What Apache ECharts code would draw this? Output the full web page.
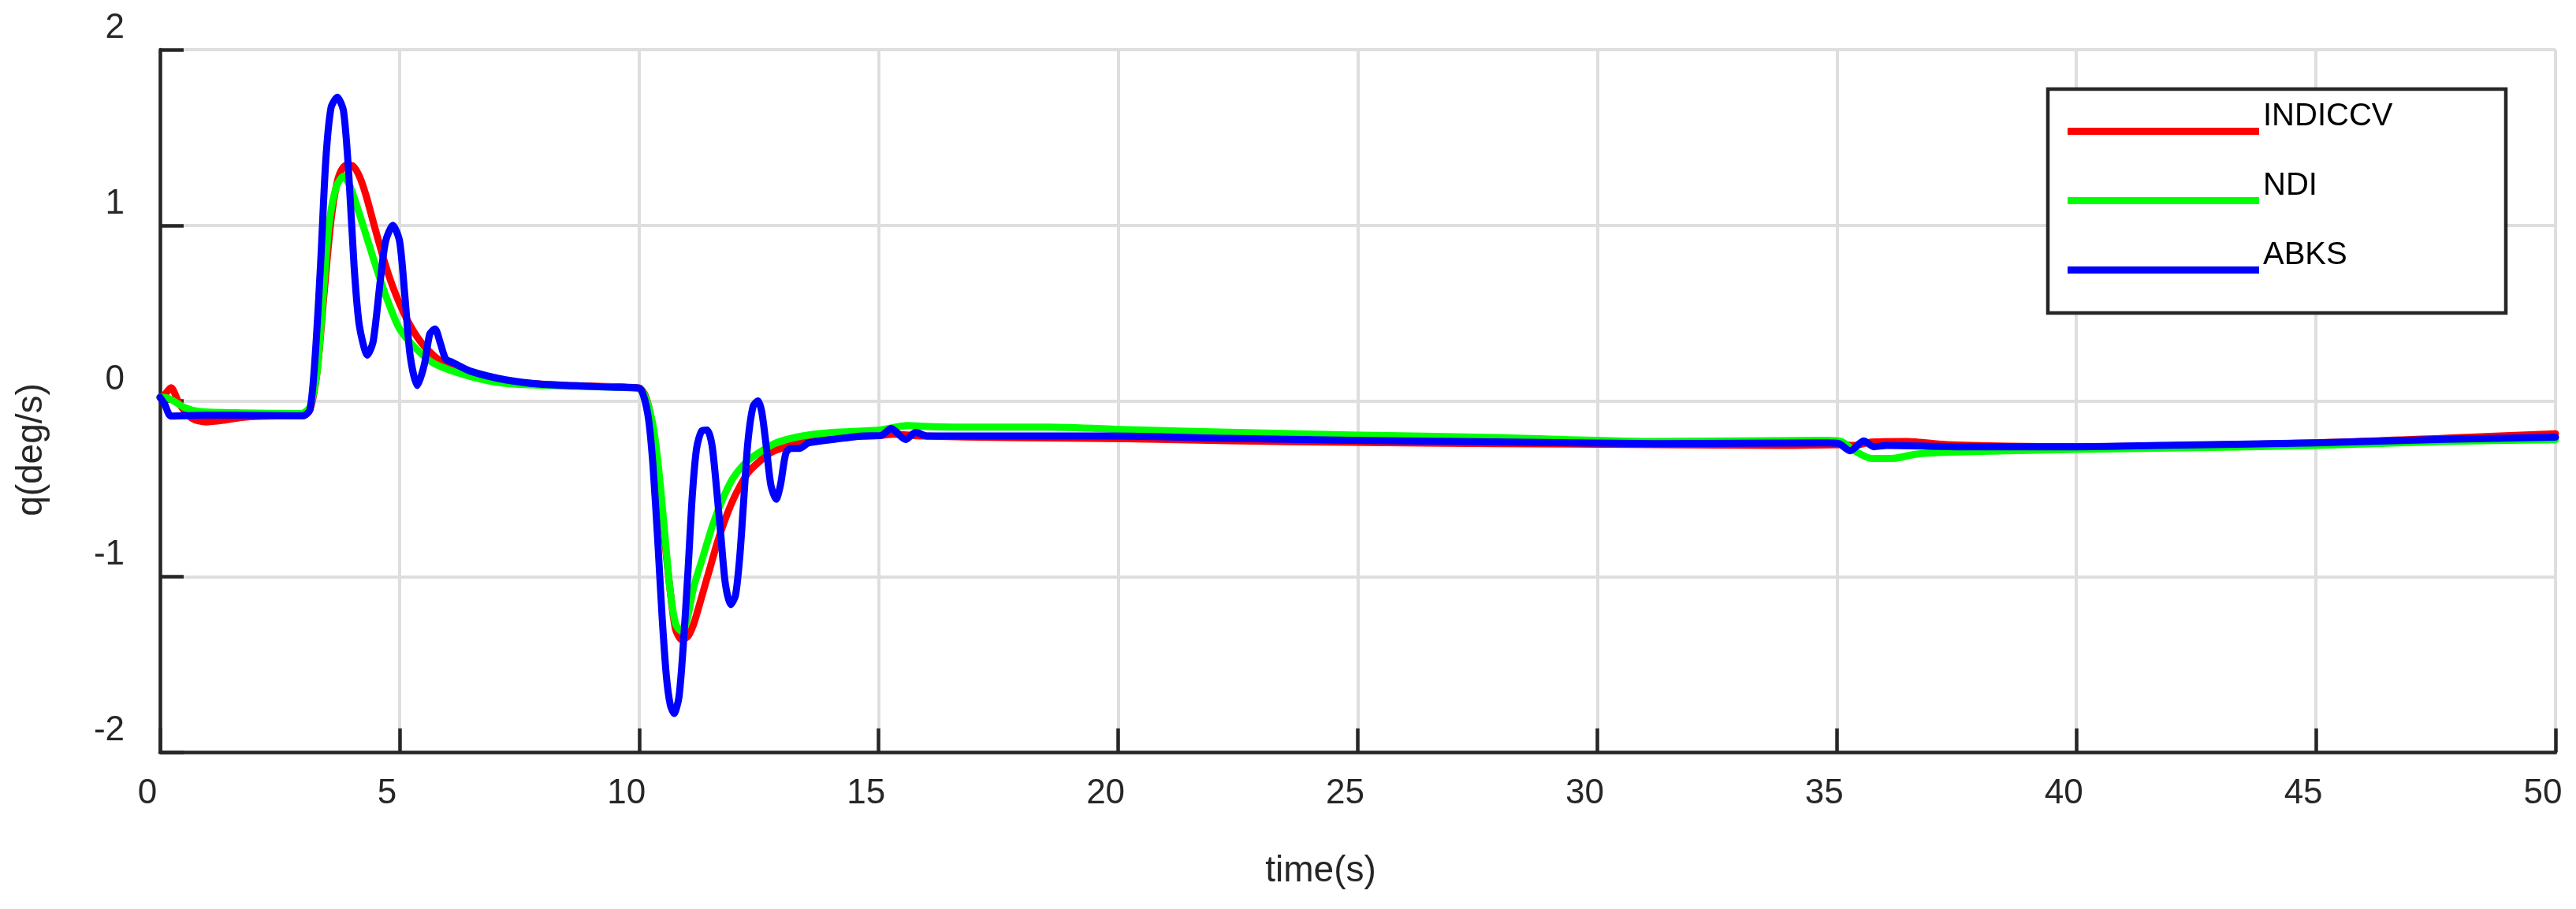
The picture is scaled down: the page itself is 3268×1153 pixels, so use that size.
<!DOCTYPE html>
<html lang="en">
<head>
	<meta charset="UTF-8">
	<title>q response</title>
	<style type="text/css">
	body,html{
		width: 100%;
		height: 100%;
		margin: 0;
		padding: 0;
		background: #fff;
	}
	#chart{
		width: 3268px;
		height: 1153px;
	}
	</style>
</head>
<body>
	<div id="chart"></div>
<script type="text/javascript" src="https://cdn.jsdelivr.net/npm/echarts@6/dist/echarts.min.js"></script>
<script type="text/javascript">
	var seriesNames = ['INDICCV', 'NDI', 'ABKS'];
	var xTicks = [0, 5, 10, 15, 20, 25, 30, 35, 40, 45, 50];
	var yTicks = [-2, -1, 0, 1, 2];

	// INDICCV (red)
	var tIndiccv = [0, 0.08, 0.23, 0.41, 0.67, 0.96, 1.33, 1.70, 2.43, 2.98, 3.13, 3.28, 3.42, 3.57, 3.72, 3.87, 4.01, 4.16, 4.30, 4.49, 4.71, 4.93, 5.22, 5.52, 5.89, 6.47, 7.21, 8.68, 10.0,
		10.13, 10.26, 10.39, 10.51, 10.64, 10.76, 10.89, 11.02, 11.14, 11.27, 11.46, 11.64, 11.83, 12.02, 12.27, 12.53, 12.78, 13.09, 13.41, 14.04, 15.01, 15.3, 15.9,
		17.7, 20.2, 22.3, 24.84, 27.9, 31.21, 33.83, 35.09, 35.35, 35.72, 36.46, 37.3, 38.56, 40.0, 45.0, 47.66, 50];
	var qIndiccv = [0.02, 0.03, 0.075, -0.02, -0.10, -0.12, -0.11, -0.094, -0.085, -0.085, -0.05, 0.17, 0.60, 1.03, 1.27, 1.34, 1.34, 1.28, 1.17, 0.98, 0.77, 0.60, 0.43, 0.31, 0.22, 0.155, 0.11, 0.086, 0.073,
		0.03, -0.11, -0.37, -0.72, -1.06, -1.30, -1.36, -1.34, -1.27, -1.15, -0.97, -0.80, -0.65, -0.53, -0.41, -0.34, -0.29, -0.26, -0.235, -0.21, -0.197, -0.19, -0.20,
		-0.209, -0.216, -0.227, -0.236, -0.243, -0.249, -0.254, -0.249, -0.254, -0.234, -0.231, -0.249, -0.258, -0.261, -0.239, -0.213, -0.187];

	// NDI (green)
	var tNdi = [0, 0.1, 0.53, 0.82, 1.70, 2.95, 3.13, 3.28, 3.42, 3.53, 3.68, 3.83, 3.97, 4.12, 4.34, 4.56, 4.78, 5.0, 5.37, 5.74, 6.47, 7.21, 8.68, 10.0,
		10.26, 10.39, 10.51, 10.64, 10.76, 10.88, 10.98, 11.14, 11.33, 11.52, 11.71, 11.96, 12.27, 12.59, 12.90, 13.41, 14.04, 15.01, 15.61, 15.93, 16.56, 18.54,
		20.22, 22.3, 24.84, 27.9, 31.21, 34.78, 35.09, 35.41, 35.72, 36.14, 36.67, 37.5, 40.0, 41.7, 45.0, 47.66, 50];
	var qNdi = [0.02, 0.02, -0.04, -0.06, -0.068, -0.072, -0.034, 0.17, 0.65, 1.01, 1.22, 1.28, 1.22, 1.10, 0.91, 0.72, 0.55, 0.41, 0.29, 0.21, 0.14, 0.10, 0.083, 0.069,
		-0.10, -0.34, -0.68, -1.06, -1.27, -1.31, -1.27, -1.06, -0.89, -0.72, -0.58, -0.44, -0.34, -0.28, -0.235, -0.20, -0.18, -0.166, -0.14, -0.145, -0.149, -0.149,
		-0.164, -0.179, -0.194, -0.209, -0.231, -0.224, -0.231, -0.291, -0.328, -0.328, -0.303, -0.291, -0.276, -0.269, -0.254, -0.231, -0.221];

	// ABKS (blue)
	var tAbks = [0, 0.1, 0.23, 1.0, 2.0, 2.98, 3.13, 3.24, 3.35, 3.46, 3.57, 3.70, 3.83, 3.94, 4.05, 4.16, 4.33, 4.45, 4.60, 4.71, 4.86, 5.0, 5.11, 5.22, 5.37, 5.52,
		5.63, 5.74, 5.85, 5.96, 6.10, 6.47, 7.21, 7.94, 8.68, 9.41, 10.0, 10.10, 10.20, 10.29, 10.39, 10.48, 10.57, 10.65, 10.73, 10.83, 10.92, 11.02, 11.11, 11.20,
		11.31, 11.42, 11.52, 11.61, 11.71, 11.80, 11.91, 12.01, 12.10, 12.18, 12.27, 12.38, 12.48, 12.56, 12.65, 12.75, 12.86, 12.95, 13.06, 13.16, 13.35, 13.53,
		14.04, 14.67, 15.05, 15.26, 15.56, 15.77, 16.02, 17.19, 19.8, 22.3, 24.84, 27.9, 31.21, 34.78, 35.04, 35.28, 35.56, 35.77, 36.04, 37.5, 40.0, 41.7, 45.0, 47.66, 50];
	var qAbks = [0.02, -0.02, -0.086, -0.082, -0.083, -0.085, -0.05, 0.26, 0.77, 1.37, 1.67, 1.73, 1.65, 1.29, 0.77, 0.43, 0.26, 0.34, 0.69, 0.91, 1.0, 0.91, 0.60, 0.26, 0.087, 0.21,
		0.38, 0.41, 0.33, 0.24, 0.22, 0.17, 0.12, 0.095, 0.086, 0.078, 0.073, 0.023, -0.11, -0.37, -0.80, -1.23, -1.57, -1.73, -1.78, -1.69, -1.40, -0.97, -0.54, -0.27,
		-0.17, -0.166, -0.25, -0.48, -0.78, -1.04, -1.16, -1.11, -0.89, -0.58, -0.235, -0.03, 0.0, -0.063, -0.25, -0.48, -0.56, -0.48, -0.30, -0.27, -0.27, -0.24,
		-0.22, -0.20, -0.197, -0.157, -0.22, -0.18, -0.20, -0.20, -0.20, -0.213, -0.224, -0.234, -0.243, -0.239, -0.243, -0.284, -0.228, -0.261, -0.254, -0.261, -0.261, -0.254, -0.239, -0.219, -0.206];

	var colors = ['#ff0000', '#00ff00', '#0000ff'];
	var fontFamily = '"Liberation Sans", Arial, sans-serif';
	var axisColor = '#262626';

	function pairs(ts, qs){
		var out = [];
		for (var i = 0; i < ts.length; i++) {
			out.push([ts[i], qs[i]]);
		}
		return out;
	}
	var allData = [pairs(tIndiccv, qIndiccv), pairs(tNdi, qNdi), pairs(tAbks, qAbks)];

	var chart = echarts.init(document.getElementById('chart'));

	/*legend sample line sits below the label, like the matlab legend*/
	var legendIcon = 'path://M0,0h0.01v0.01h-0.01z M0,38h243v9h-243z';

	var option = {
		animation: false,
		backgroundColor: '#fff',
		grid: {
			left: 203,
			right: 26,
			top: 63,
			bottom: 199,
			containLabel: false
		},
		xAxis: {
			type: 'value',
			min: xTicks[0],
			max: xTicks[xTicks.length - 1],
			interval: xTicks[1] - xTicks[0],
			name: 'time(s)',
			nameLocation: 'middle',
			nameGap: 128,
			nameTextStyle: {
				fontFamily: fontFamily,
				fontSize: 46,
				lineHeight: 46,
				color: axisColor,
				padding: [0, 94, 0, 0]
			},
			axisLine: { show: true, onZero: false, lineStyle: { color: axisColor, width: 4.5 } },
			axisTick: { show: true, inside: true, length: 30, lineStyle: { color: axisColor, width: 4.5 } },
			axisLabel: {
				fontFamily: fontFamily,
				fontSize: 44,
				color: axisColor,
				margin: 31,
				padding: [0, 32, 0, 0]
			},
			splitLine: { show: true, lineStyle: { color: '#dedede', width: 4 } }
		},
		yAxis: {
			type: 'value',
			min: yTicks[0],
			max: yTicks[yTicks.length - 1],
			interval: yTicks[1] - yTicks[0],
			name: 'q(deg/s)',
			nameLocation: 'middle',
			nameGap: 140,
			nameRotate: 90,
			nameTextStyle: {
				fontFamily: fontFamily,
				fontSize: 46,
				lineHeight: 46,
				color: axisColor,
				padding: [0, 124, 0, 0]
			},
			axisLine: { show: true, onZero: false, lineStyle: { color: axisColor, width: 4.5 } },
			axisTick: { show: true, inside: true, length: 30, lineStyle: { color: axisColor, width: 4.5 } },
			axisLabel: {
				fontFamily: fontFamily,
				fontSize: 44,
				lineHeight: 54,
				verticalAlign: 'bottom',
				color: axisColor,
				margin: 45
			},
			splitLine: { show: true, lineStyle: { color: '#dedede', width: 4 } }
		},
		legend: {
			orient: 'vertical',
			left: 2623,
			top: 124,
			padding: 0,
			itemWidth: 243,
			itemHeight: 47,
			itemGap: 41,
			itemTextGap: 18,
			icon: legendIcon,
			z: 5,
			textStyle: {
				fontFamily: fontFamily,
				fontSize: 40,
				color: '#000'
			},
			data: seriesNames
		},
		graphic: [{
			type: 'rect',
			z: 3,
			shape: { x: 2598, y: 113, width: 581, height: 284 },
			style: { fill: '#fff', stroke: axisColor, lineWidth: 4.5 }
		}],
		series: seriesNames.map(function (name, i) {
			return {
				name: name,
				type: 'line',
				data: allData[i],
				showSymbol: false,
				smooth: 0.25,
				color: colors[i],
				lineStyle: { width: 9, color: colors[i], join: 'round', cap: 'round' },
				z: 2 + i
			};
		})
	};

	chart.setOption(option, true);
	window.addEventListener("resize", function(){
		chart.resize();
	});
</script>
</body>
</html>
